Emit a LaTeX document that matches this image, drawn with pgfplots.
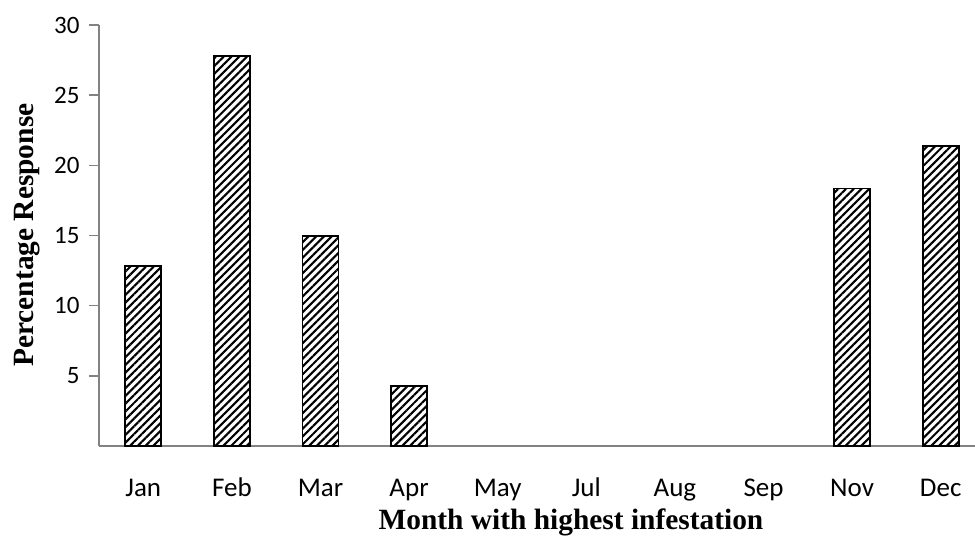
\documentclass[border=0pt]{standalone}
\usepackage{fontspec}
\setmainfont{Liberation Serif}
\newfontfamily\calibri{Carlito}
\usepackage{pgfplots}
\pgfplotsset{compat=1.18}
\usetikzlibrary{patterns.meta}
\definecolor{axgray}{RGB}{130,130,130}
\begin{document}
\begin{tikzpicture}
\useasboundingbox (0,0) rectangle (975pt,537pt);
\begin{axis}[
  at={(99pt,91pt)}, anchor=south west, scale only axis,
  width=876pt, height=421pt,
  xmin=-0.5, xmax=9.387, ymin=0, ymax=30,
  axis lines*=left,
  axis line style={axgray, line width=1.2pt},
  ybar, bar width=36pt,
  xtick={0,...,9},
  xticklabels={Jan,Feb,Mar,Apr,May,Jul,Aug,Sep,Nov,Dec},
  ytick={5,10,15,20,25,30},
  tick align=outside,
  xtick style={draw=none},
  ytick style={draw=axgray, line width=1.4pt, /pgfplots/major tick length=10pt},
  /pgf/number format/assume math mode=true,
  xticklabel style={font=\calibri\fontsize{27}{27}\selectfont, anchor=base, inner sep=0pt, yshift=-46pt},
  yticklabel style={font=\calibri\fontsize{25}{25}\selectfont, anchor=east, inner sep=0pt, xshift=-15pt},
  xlabel={\textbf{Month with highest infestation}},
  ylabel={\textbf{Percentage Response}},
  xlabel style={font=\fontsize{29.4}{29.4}\selectfont, at={(axis description cs:0.5388,-0.1995)}, anchor=base, inner sep=0pt},
  ylabel style={font=\fontsize{29.4}{29.4}\selectfont, at={(axis description cs:-0.0753,0.501)}, anchor=base, inner sep=0pt},
  clip=false,
]
\addplot[draw=black, line width=1.8pt,
  pattern={Lines[angle=45, distance=5.5pt, line width=2.1pt]}, pattern color=black]
  coordinates {(0,12.85) (1,27.8) (2,14.95) (3,4.3) (8,18.35) (9,21.4)};
\end{axis}
\end{tikzpicture}
\end{document}
